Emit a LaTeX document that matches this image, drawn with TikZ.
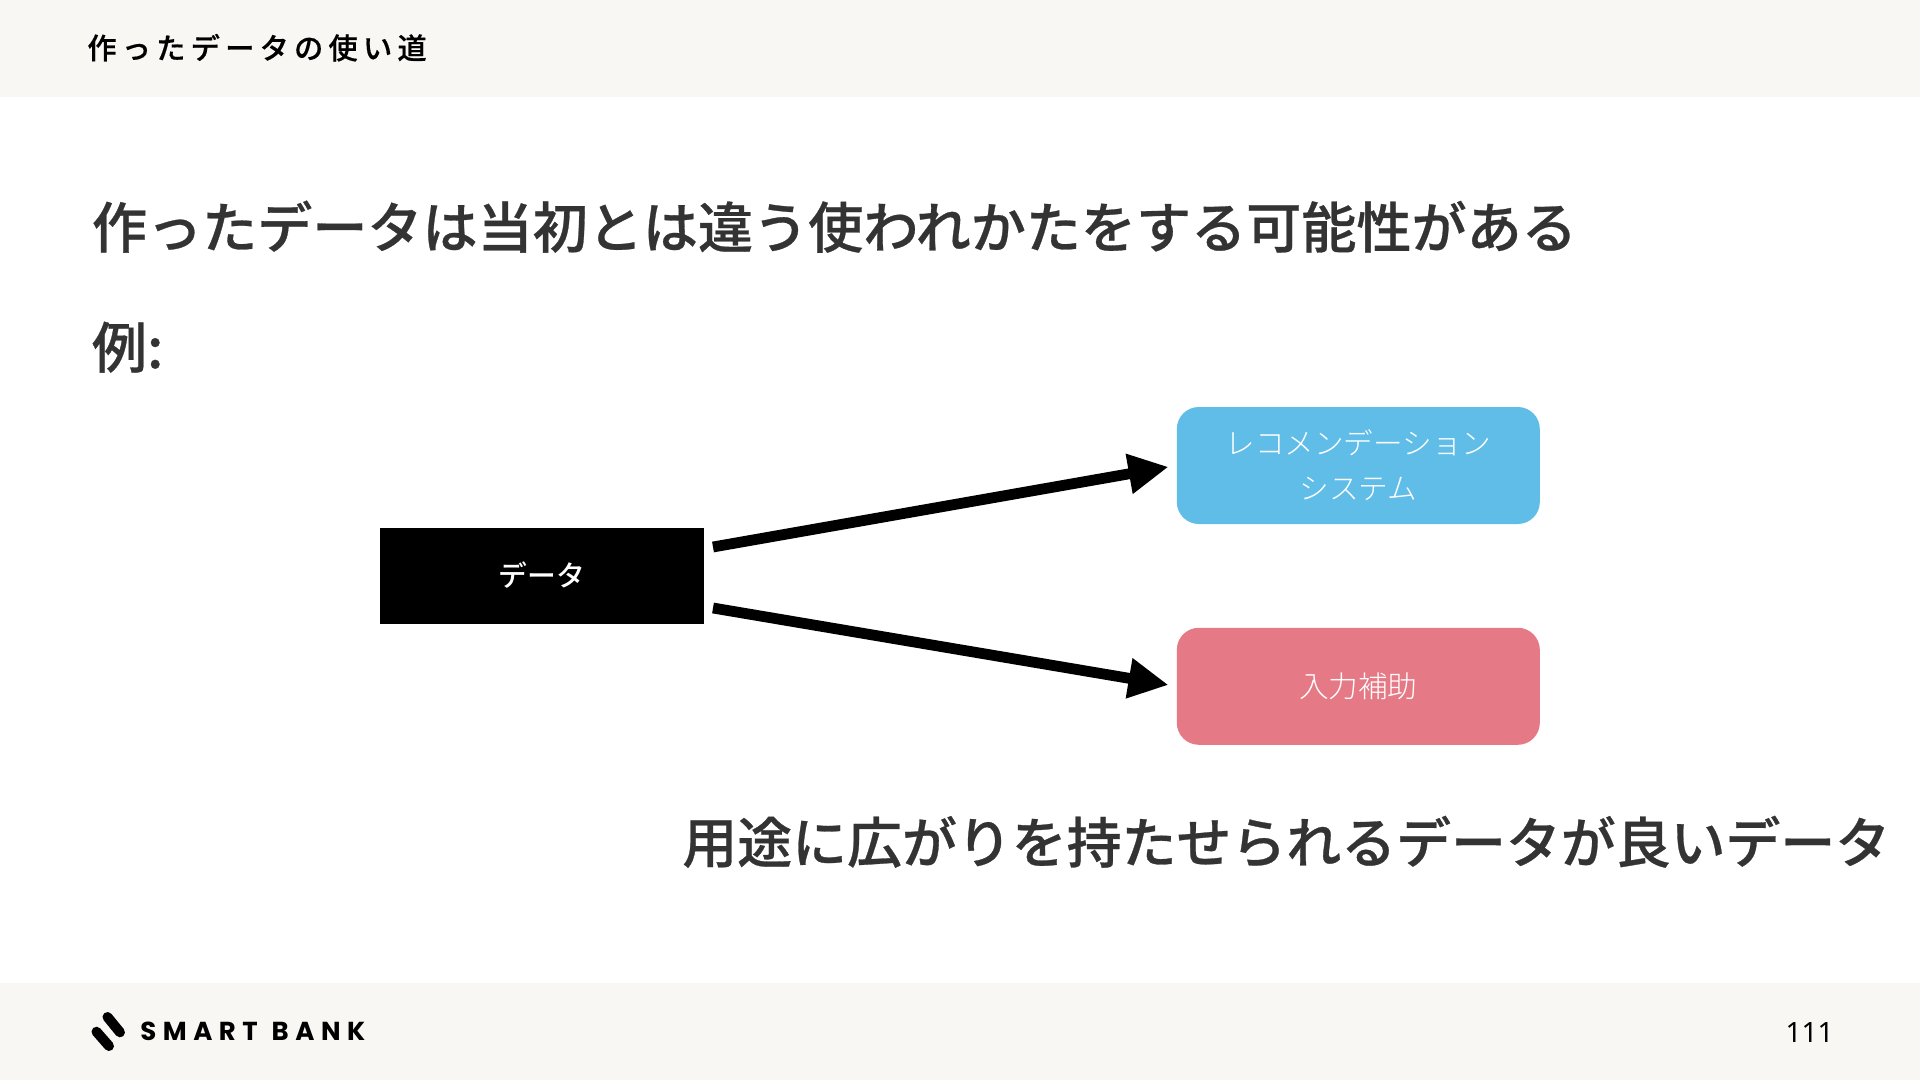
\documentclass[tikz,border=0pt]{standalone}
\usepackage{fontspec}
\setmainfont{Noto Sans CJK JP}[BoldFont={Noto Sans CJK JP Bold}]
\newfontfamily\mediumfont{Noto Sans CJK JP Medium}
\newfontfamily\headfont{Noto Sans CJK JP Medium}[FakeBold=0.5]
\newfontfamily\lightfont{Noto Sans CJK JP Light}
\newfontfamily\logofont{Poppins}[BoldFont={Poppins Bold}]
\newfontfamily\numfont{Noto Sans}
\definecolor{bandgray}{RGB}{248,247,243}
\definecolor{inkgray}{RGB}{51,51,51}
\definecolor{skyblue}{RGB}{95,189,232}
\definecolor{rosered}{RGB}{230,121,134}
\usetikzlibrary{arrows.meta,positioning}

\begin{document}
\begin{tikzpicture}[x=0.5pt,y=-0.5pt]
  \tikzstyle{band}=[fill=bandgray,draw=none]
  \tikzstyle{headline}=[anchor=base west,inner sep=0pt,text=inkgray,font=\headfont\fontsize{27.55pt}{32pt}\selectfont]
  \tikzstyle{databox}=[rectangle,fill=black,text=white,minimum width=162pt,minimum height=48pt,inner sep=0pt,font=\mediumfont\fontsize{14.4pt}{20pt}\selectfont]
  \tikzstyle{usebox}=[rectangle,text=white,minimum width=181.5pt,minimum height=58.5pt,inner sep=0pt,rounded corners=11pt,align=center,font=\lightfont\fontsize{14.8pt}{22.5pt}\selectfont]
  \tikzstyle{flow}=[-{Triangle[length=20pt,width=19pt]},line width=5.4pt,shorten >=4pt]

  \fill[white] (0,0) rectangle (1920,1080);
  \path[use as bounding box] (0,0) rectangle (1920,1080);
  \fill[band] (0,0) rectangle (1920,97);
  \fill[band] (0,983) rectangle (1920,1080);

  \node[anchor=base west,inner sep=0pt,text=black,font=\headfont\fontsize{14.6pt}{18pt}\selectfont] (header) at (87,59) {\addfontfeature{LetterSpace=18}作ったデータの使い道};
  \node[headline] (title) at (91.5,248) {作ったデータは当初とは違う使われかたをする可能性がある};
  \node[headline] (example) at (91.5,368) {例:};

  \node[databox] (data) at (542,575.5) {データ};
  \node[usebox,fill=skyblue,right=236pt of data,yshift=55pt] (reco) {レコメンデーション\\システム};
  \node[usebox,fill=rosered,below=51.5pt of reco] (input) {入力補助};

  \coordinate (upstart) at (713,547);
  \coordinate (downstart) at (713,608);
  \draw[flow] (upstart) -- (reco.west);
  \draw[flow] (downstart) -- (input.west);

  \node[headline,font=\headfont\fontsize{27.45pt}{32pt}\selectfont] (summary) at (682,863) {用途に広がりを持たせられるデータが良いデータ};

  % logo
  \draw[line width=5pt,line cap=round] (107.5,1017) -- (120,1032.3);
  \draw[line width=5pt,line cap=round] (96.5,1031.7) -- (109,1046);
  \node[anchor=base west,inner sep=0pt,text=black,font=\logofont\bfseries\fontsize{13pt}{16pt}\selectfont] (logo) at (140,1040) {\addfontfeature{LetterSpace=25}SMART \hspace{1pt}BANK};
  \node[anchor=base east,inner sep=0pt,text=black,font=\numfont\fontsize{14pt}{18pt}\selectfont] (page) at (1834,1042) {111};
\end{tikzpicture}
\end{document}
